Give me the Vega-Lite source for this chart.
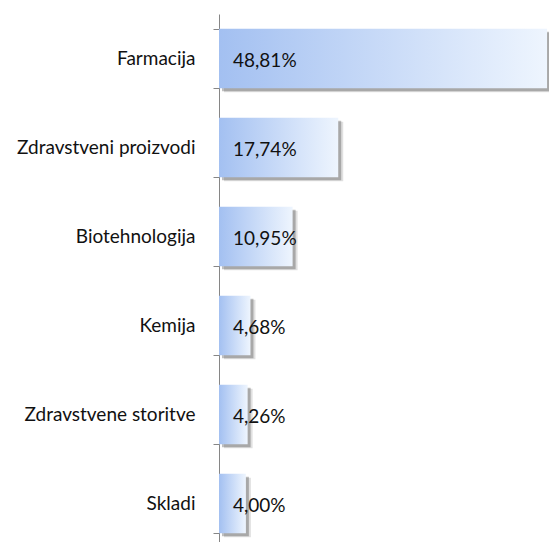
{
  "$schema": "https://vega.github.io/schema/vega-lite/v6.json",
  "width": 330,
  "height": 534,
  "autosize": {"type": "none"},
  "padding": {"left": 219, "top": 14, "right": 0, "bottom": 0},
  "background": "white",
  "config": {"view": {"stroke": null}, "font": "Lato"},
  "data": {
    "values": [
      {"category": "Farmacija", "value": 48.81, "label": "48,81%"},
      {"category": "Zdravstveni proizvodi", "value": 17.74, "label": "17,74%"},
      {"category": "Biotehnologija", "value": 10.95, "label": "10,95%"},
      {"category": "Kemija", "value": 4.68, "label": "4,68%"},
      {"category": "Zdravstvene storitve", "value": 4.26, "label": "4,26%"},
      {"category": "Skladi", "value": 4.00, "label": "4,00%"}
    ]
  },
  "encoding": {
    "y": {
      "field": "category",
      "type": "nominal",
      "sort": null,
      "scale": {"paddingInner": 0.33, "paddingOuter": 0.165},
      "axis": {
        "title": null,
        "domainColor": "#868686",
        "tickColor": "#868686",
        "tickSize": 6,
        "tickBand": "extent",
        "labelFontSize": 19,
        "labelColor": "#111111",
        "labelPadding": 18,
        "labelLimit": 300,
        "labelFont": "Lato"
      }
    }
  },
  "layer": [
    {
      "mark": {"type": "bar", "color": "#000000", "opacity": 0.12, "xOffset": 5, "yOffset": 4},
      "encoding": {
        "x": {"field": "value", "type": "quantitative", "scale": {"domain": [0, 49.1], "nice": false}, "axis": null}
      }
    },
    {
      "mark": {"type": "bar", "color": "#000000", "opacity": 0.25, "xOffset": 3, "yOffset": 3},
      "encoding": {
        "x": {"field": "value", "type": "quantitative"}
      }
    },
    {
      "mark": {
        "type": "bar",
        "color": {
          "gradient": "linear",
          "x1": 0, "y1": 0, "x2": 1, "y2": 0,
          "stops": [
            {"offset": 0, "color": "#a3c0f1"},
            {"offset": 1, "color": "#eef5fe"}
          ]
        }
      },
      "encoding": {
        "x": {"field": "value", "type": "quantitative"}
      }
    },
    {
      "mark": {"type": "text", "align": "left", "baseline": "middle", "dx": 14, "dy": 2, "fontSize": 19, "color": "#111111", "font": "Lato"},
      "encoding": {
        "x": {"datum": 0, "type": "quantitative"},
        "text": {"field": "label"}
      }
    }
  ]
}
